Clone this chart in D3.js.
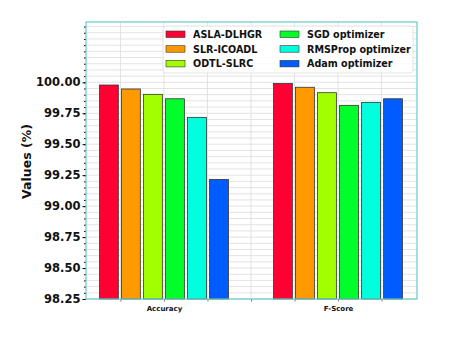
<!DOCTYPE html>
<html>
<head>
<meta charset="utf-8">
<script src="https://cdn.jsdelivr.net/npm/d3@7"></script>
<style>
  body { margin: 0; background: #fff; }
  text { font-family: "DejaVu Sans", sans-serif; font-weight: bold; }
</style>
</head>
<body>
<div id="chart"></div>
<script>
const categories = ["Accuracy", "F-Score"];
const series = ["ASLA-DLHGR", "SLR-ICOADL", "ODTL-SLRC", "SGD optimizer", "RMSProp optimizer", "Adam optimizer"];
const colors = ["#ff0033", "#ff9900", "#a2ff00", "#00ff2a", "#00ffdc", "#005cff"];
const values = [
  [99.978, 99.990],
  [99.946, 99.960],
  [99.903, 99.916],
  [99.867, 99.814],
  [99.717, 99.838],
  [99.216, 99.867]
];
const yTicks = [98.25, 98.50, 98.75, 99.00, 99.25, 99.50, 99.75, 100.00];

const W = 451, H = 337;
const pLeft = 86, pRight = 417, pTop = 22, pBottom = 299;

const svg = d3.select("#chart").append("svg")
  .attr("width", W).attr("height", H);

const x = d3.scaleLinear().domain([-0.448, 1.454]).range([pLeft, pRight]);
const y = d3.scaleLinear().domain([98.25, 100.487]).range([pBottom, pTop]);

// grid
const minor = d3.range(98.25, 100.487, 0.05);
svg.append("g").selectAll("line").data(minor).enter().append("line")
  .attr("x1", pLeft).attr("x2", pRight)
  .attr("y1", d => y(d)).attr("y2", d => y(d))
  .attr("stroke", "#dcdcdc").attr("stroke-width", 0.8);
const xGrid = [-0.25, 0, 0.25, 0.5, 0.75, 1, 1.25];
svg.append("g").selectAll("line").data(xGrid).enter().append("line")
  .attr("x1", d => x(d)).attr("x2", d => x(d))
  .attr("y1", pTop).attr("y2", pBottom)
  .attr("stroke", "#dcdcdc").attr("stroke-width", 0.8);

// bars
const bw = 0.108, step = 0.1265;
series.forEach(function(s, i) {
  svg.append("g").selectAll("rect").data(values[i]).enter().append("rect")
    .attr("x", (d, j) => x(j + (i - 2.5) * step - bw / 2))
    .attr("width", x(bw) - x(0))
    .attr("y", d => y(d))
    .attr("height", d => pBottom - y(d))
    .attr("fill", colors[i])
    .attr("stroke", "#333").attr("stroke-width", 0.8);
});

// y axis
const yAxis = svg.append("g")
  .attr("transform", "translate(" + pLeft + ",0)")
  .call(d3.axisLeft(y).tickValues(yTicks).tickFormat(d3.format(".2f")).tickSize(3.5).tickPadding(2));
yAxis.select(".domain").remove();
yAxis.selectAll("text").style("font-size", "11.5px").attr("fill", "#111");
svg.append("g").attr("transform", "translate(" + pLeft + ",0)")
  .call(d3.axisLeft(y).tickValues(minor).tickFormat("").tickSize(2))
  .select(".domain").remove();

// x axis
const xAxis = svg.append("g")
  .attr("transform", "translate(0," + pBottom + ")")
  .call(d3.axisBottom(x).tickValues(xGrid).tickFormat(d => d === 0 ? categories[0] : d === 1 ? categories[1] : "").tickSize(2.5).tickPadding(5));
xAxis.select(".domain").remove();
xAxis.selectAll("text").style("font-size", "7px").attr("fill", "#111");
xAxis.selectAll("line").attr("stroke", "#777");

// frame
svg.append("rect")
  .attr("x", pLeft).attr("y", pTop)
  .attr("width", pRight - pLeft).attr("height", pBottom - pTop)
  .attr("fill", "none").attr("stroke", "#66cccc").attr("stroke-width", 1.2);

// y label
svg.append("text")
  .attr("transform", "translate(31," + ((pTop + pBottom) / 2 + 1) + ") rotate(-90)")
  .attr("text-anchor", "middle")
  .style("font-size", "12.5px")
  .attr("fill", "#111")
  .text("Values (%)");

// legend
const lg = svg.append("g");
lg.append("rect")
  .attr("x", 163).attr("y", 26).attr("width", 250).attr("height", 47)
  .attr("rx", 3).attr("fill", "#fff").attr("fill-opacity", 0.85)
  .attr("stroke", "#ddd").attr("stroke-width", 0.8);
series.forEach(function(s, i) {
  const col = Math.floor(i / 3), row = i % 3;
  const lx = 166 + col * 114, ly = 31 + row * 14.7;
  lg.append("rect")
    .attr("x", lx).attr("y", ly).attr("width", 19).attr("height", 6.5)
    .attr("fill", colors[i]).attr("stroke", "#333").attr("stroke-width", 0.6);
  lg.append("text")
    .attr("x", lx + 27).attr("y", ly + 7)
    .style("font-size", "9.6px").attr("fill", "#111")
    .text(s);
});
</script>
</body>
</html>
